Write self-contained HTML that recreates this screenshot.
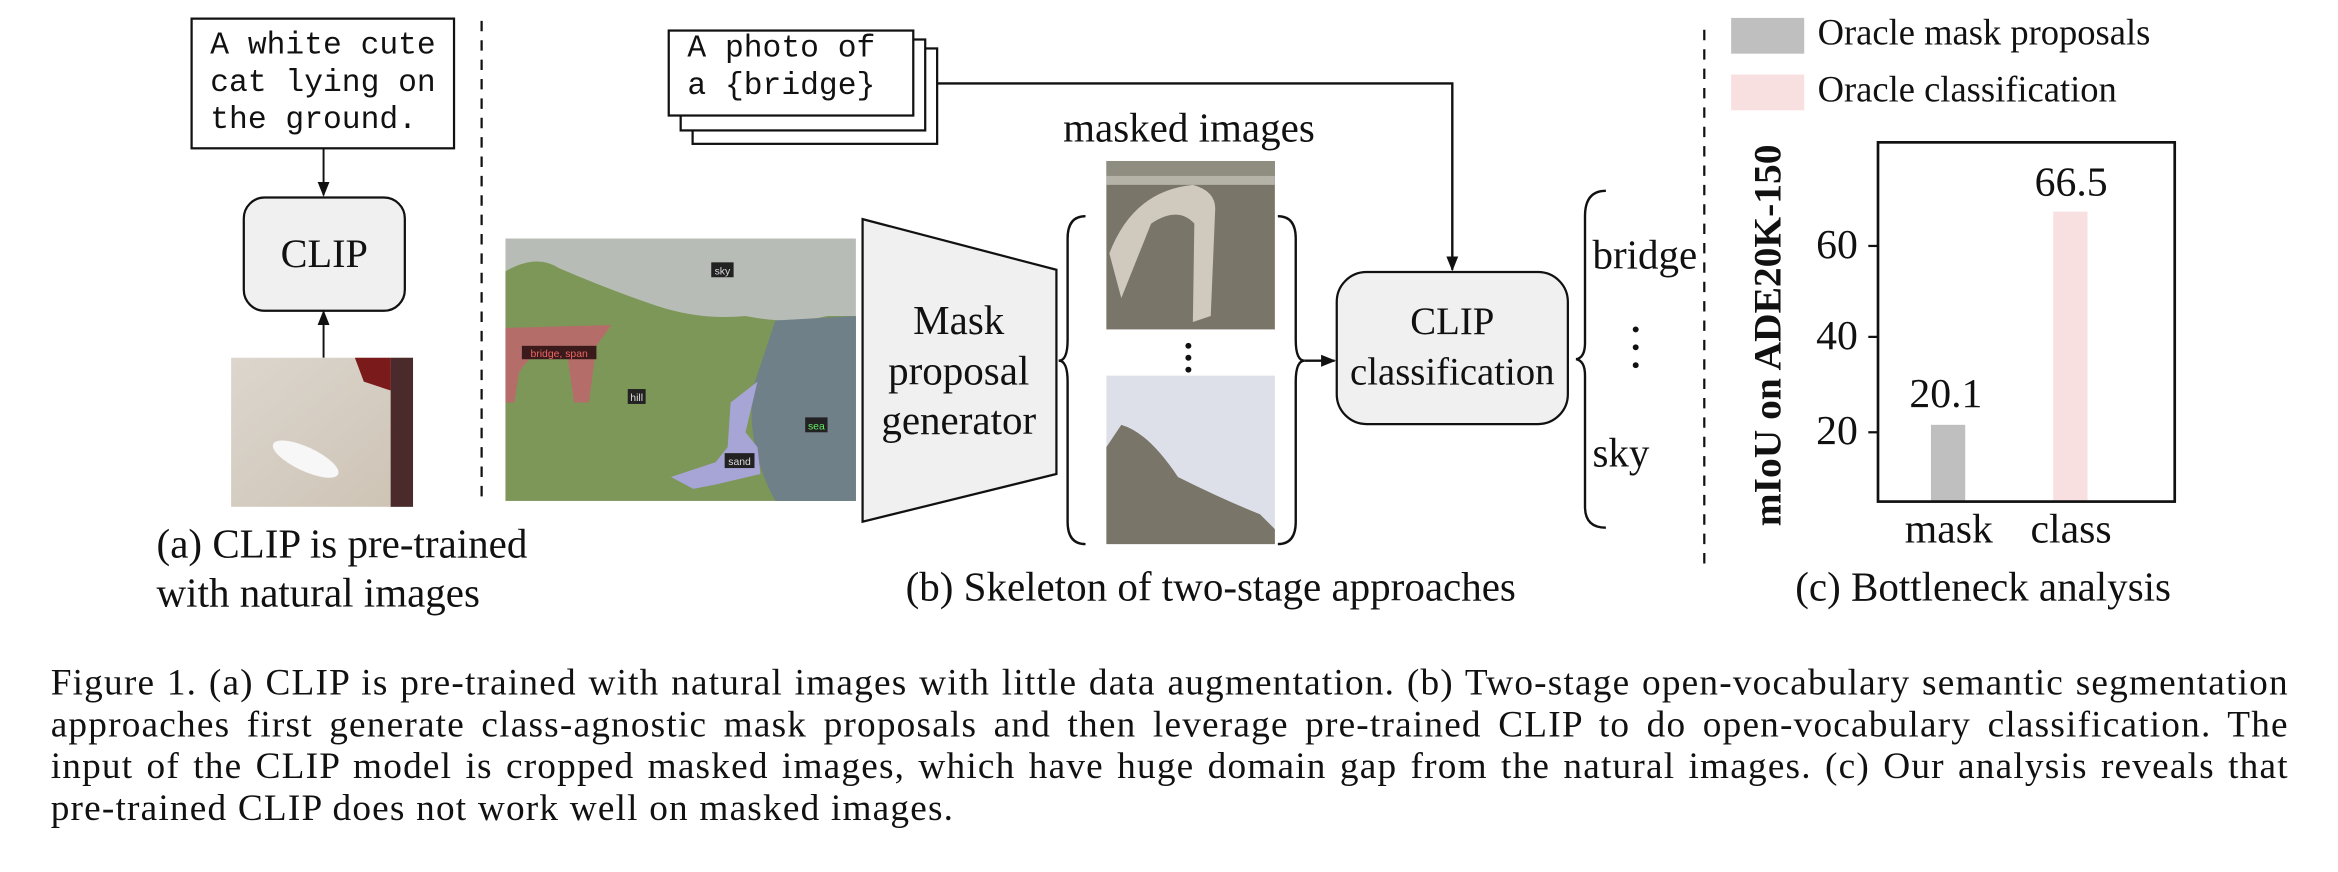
<!DOCTYPE html>
<html><head><meta charset="utf-8"><style>
html,body{margin:0;padding:0;background:#fff;width:2338px;height:872px;overflow:hidden}
#c{position:absolute;left:0;top:0;width:1568px;height:585px;transform:scale(1.49107,1.4906);transform-origin:0 0;font-family:"Liberation Serif",serif;color:#111}
.a{position:absolute;white-space:nowrap}
.mono{font-family:"Liberation Mono",monospace;font-size:21px;line-height:24.8px}
.cap{font-size:27.5px;line-height:33px}
.cl{position:absolute;left:34px;width:1501px;font-size:25px;letter-spacing:0.8px;line-height:28px;text-align:justify;text-align-last:justify;white-space:nowrap}
.n{font-size:28px;line-height:32px;text-align:center}
</style></head><body><div id="c">
<svg width="1568" height="585" style="position:absolute;left:0;top:0">
<defs><marker id="ar" markerWidth="10" markerHeight="10" refX="9" refY="5" orient="auto" markerUnits="userSpaceOnUse"><path d="M0,1 L10,5 L0,9 z" fill="#111"/></marker>
<linearGradient id="fl" x1="0" y1="0" x2="1" y2="1"><stop offset="0" stop-color="#dcd6ce"/><stop offset="1" stop-color="#cdc3b4"/></linearGradient></defs>
<!-- (a) -->
<rect x="128.5" y="12.5" width="176" height="87" fill="#fff" stroke="#111" stroke-width="1.5"/>
<line x1="217" y1="100" x2="217" y2="131" stroke="#111" stroke-width="1.3" marker-end="url(#ar)"/>
<rect x="163.5" y="132.5" width="108" height="76" rx="14" fill="#f0f0f0" stroke="#111" stroke-width="1.5"/>
<line x1="217" y1="240" x2="217" y2="209" stroke="#111" stroke-width="1.3" marker-end="url(#ar)"/>
<rect x="155" y="240" width="122" height="100" fill="url(#fl)"/>
<rect x="262" y="240" width="15" height="100" fill="#4a2a2a"/>
<path d="M238,240 L262,240 L262,262 L244,256 Z" fill="#7a1a1a"/>
<ellipse cx="205" cy="308" rx="24" ry="8" fill="#f7f7f7" transform="rotate(25 205 308)"/>
<line x1="323" y1="14" x2="323" y2="338" stroke="#111" stroke-width="1.5" stroke-dasharray="7,6"/>
<!-- (b) stack -->
<rect x="464.5" y="32.5" width="164" height="64" fill="#fff" stroke="#111" stroke-width="1.5"/>
<rect x="456.5" y="26.5" width="164" height="61" fill="#fff" stroke="#111" stroke-width="1.5"/>
<rect x="448.5" y="20.5" width="164" height="57" fill="#fff" stroke="#111" stroke-width="1.5"/>
<polyline points="629,56 974,56 974,181" fill="none" stroke="#111" stroke-width="1.6" marker-end="url(#ar)"/>
<!-- landscape -->
<rect x="339" y="160" width="235" height="176" fill="#b8bcb6"/>
<path d="M339,182 Q360,170 375,180 Q410,195 440,205 Q470,215 500,212 Q530,218 555,212 L574,212 L574,336 L339,336 Z" fill="#7d9758"/>
<path d="M520,215 L574,212 L574,336 L520,336 Q500,300 505,260 Z" fill="#6f8088"/>
<path d="M339,220 L410,218 L400,232 L395,270 L385,270 L380,235 Q360,230 348,250 L345,270 L339,270 Z" fill="#b56d6a"/>
<path d="M450,320 L480,310 L488,300 L490,270 L508,256 L500,290 L508,300 L510,318 L480,325 L465,328 Z" fill="#a7a4d6"/>
<rect x="477" y="176" width="15" height="10" fill="#222"/><text x="484.5" y="184" font-size="7" fill="#ddd" text-anchor="middle" font-family="Liberation Sans">sky</text>
<rect x="350" y="232" width="50" height="9" fill="#3a1a1a"/><text x="375" y="239.5" font-size="7" fill="#e66" text-anchor="middle" font-family="Liberation Sans">bridge, span</text>
<rect x="421" y="261" width="12" height="10" fill="#222"/><text x="427" y="269" font-size="7" fill="#ddd" text-anchor="middle" font-family="Liberation Sans">hill</text>
<rect x="540" y="280" width="15" height="10" fill="#222"/><text x="547.5" y="288" font-size="7" fill="#6e6" text-anchor="middle" font-family="Liberation Sans">sea</text>
<rect x="486" y="304" width="20" height="10" fill="#222"/><text x="496" y="312" font-size="7" fill="#ddd" text-anchor="middle" font-family="Liberation Sans">sand</text>
<!-- trapezoid -->
<polygon points="578.5,147 708.5,181 708.5,318 578.5,350" fill="#f0f0f0" stroke="#111" stroke-width="1.5"/>
<!-- braces -->
<path d="M728,145 Q716,145 716,160 L716,228 Q716,242 710,242 Q716,242 716,256 L716,350 Q716,365 728,365" fill="none" stroke="#111" stroke-width="1.6"/>
<path d="M857,145 Q869,145 869,160 L869,228 Q869,242 875,242 Q869,242 869,256 L869,350 Q869,365 857,365" fill="none" stroke="#111" stroke-width="1.6"/>
<line x1="875" y1="242" x2="895" y2="242" stroke="#111" stroke-width="1.6" marker-end="url(#ar)"/>
<!-- masked images -->
<rect x="742" y="108" width="113" height="113" fill="#7a7569"/>
<path d="M742,108 L855,108 L855,118 L742,118 Z" fill="#8f8d80"/>
<path d="M742,118 L855,118 L855,124 L742,124 Z" fill="#b5b2a8"/>
<path d="M744,170 Q760,128 800,124 Q815,128 815,140 L812,212 L800,216 L801,150 Q790,138 772,150 L752,200 Z" fill="#cfcabd"/>
<rect x="742" y="252" width="113" height="113" fill="#dde0e8"/>
<path d="M742,300 L752,285 Q770,290 790,320 Q820,335 845,345 L855,355 L855,365 L742,365 Z" fill="#7a7569"/>
<circle cx="797" cy="232" r="2" fill="#111"/><circle cx="797" cy="240" r="2" fill="#111"/><circle cx="797" cy="248" r="2" fill="#111"/>
<rect x="896.5" y="182.5" width="155" height="102" rx="20" fill="#f0f0f0" stroke="#111" stroke-width="1.5"/>
<path d="M1077,128 Q1063,128 1063,145 L1063,230 Q1063,240 1057,241 Q1063,242 1063,252 L1063,340 Q1063,354 1077,354" fill="none" stroke="#111" stroke-width="1.6"/>
<circle cx="1097" cy="221" r="2" fill="#111"/><circle cx="1097" cy="233" r="2" fill="#111"/><circle cx="1097" cy="245" r="2" fill="#111"/>
<line x1="1143" y1="20" x2="1143" y2="378" stroke="#111" stroke-width="1.5" stroke-dasharray="7,6"/>
<!-- (c) -->
<rect x="1161" y="12" width="49" height="24" fill="#bfbfbf"/>
<rect x="1161" y="50" width="49" height="24" fill="#f8dfe0"/>
<rect x="1295" y="285" width="23" height="51" fill="#bfbfbf"/>
<rect x="1377" y="142" width="23" height="194" fill="#f8dfe0"/>
<rect x="1259.5" y="95.5" width="199" height="241" fill="none" stroke="#111" stroke-width="1.8"/>
<line x1="1253" y1="165" x2="1259" y2="165" stroke="#111" stroke-width="1.5"/>
<line x1="1253" y1="226" x2="1259" y2="226" stroke="#111" stroke-width="1.5"/>
<line x1="1253" y1="290" x2="1259" y2="290" stroke="#111" stroke-width="1.5"/>
<text transform="translate(1194,225) rotate(-90)" font-size="26.5" font-weight="bold" text-anchor="middle" font-family="Liberation Serif" fill="#111">mIoU on ADE20K-150</text>
</svg>
<div class="a mono" style="left:141px;top:20px">A white cute<br>cat lying on<br>the ground.</div>
<div class="a" style="left:163px;top:153px;width:109px;text-align:center;font-size:27px;line-height:34px">CLIP</div>
<div class="a cap" style="left:105px;top:347.5px">(a) CLIP is pre-trained<br>with natural images</div>
<div class="a mono" style="left:461px;top:22px">A photo of<br>a {bridge}</div>
<div class="a cap" style="left:713px;top:68.5px">masked images</div>
<div class="a" style="left:568px;top:198px;width:150px;text-align:center;font-size:27.5px;line-height:33.5px">Mask<br>proposal<br>generator</div>
<div class="a" style="left:886px;top:199px;width:176px;text-align:center;font-size:26px;line-height:34px">CLIP<br>classification</div>
<div class="a cap" style="left:1068px;top:153.5px">bridge</div>
<div class="a cap" style="left:1068px;top:286.5px">sky</div>
<div class="a cap" style="left:562px;top:376.5px;width:500px;text-align:center">(b) Skeleton of two-stage approaches</div>
<div class="a" style="left:1219px;top:7px;font-size:24.5px;line-height:32px">Oracle mask proposals</div>
<div class="a" style="left:1219px;top:45px;font-size:24.5px;line-height:32px">Oracle classification</div>
<div class="a n" style="left:1200px;top:149px;width:46px;text-align:right">60</div>
<div class="a n" style="left:1200px;top:210px;width:46px;text-align:right">40</div>
<div class="a n" style="left:1200px;top:274px;width:46px;text-align:right">20</div>
<div class="a n" style="left:1265px;top:249px;width:80px">20.1</div>
<div class="a n" style="left:1349px;top:107px;width:80px">66.5</div>
<div class="a n" style="left:1267px;top:340px;width:80px">mask</div>
<div class="a n" style="left:1349px;top:340px;width:80px">class</div>
<div class="a cap" style="left:1180px;top:376.5px;width:300px;text-align:center">(c) Bottleneck analysis</div>
<div class="cl" style="top:445px">Figure 1. (a) CLIP is pre-trained with natural images with little data augmentation. (b) Two-stage open-vocabulary semantic segmentation</div>
<div class="cl" style="top:473px">approaches first generate class-agnostic mask proposals and then leverage pre-trained CLIP to do open-vocabulary classification. The</div>
<div class="cl" style="top:501px">input of the CLIP model is cropped masked images, which have huge domain gap from the natural images. (c) Our analysis reveals that</div>
<div class="cl" style="top:529px;text-align-last:left">pre-trained CLIP does not work well on masked images.</div>
</div></body></html>
